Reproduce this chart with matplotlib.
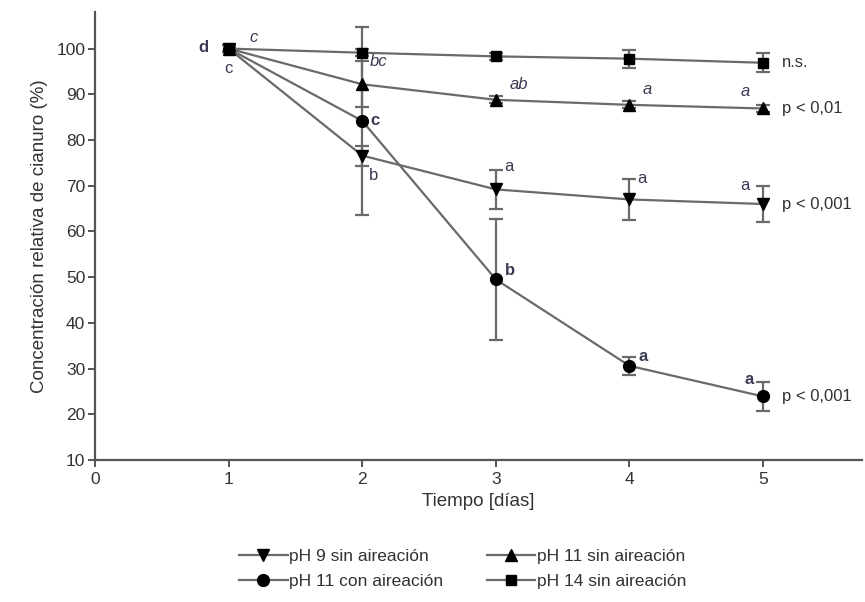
import matplotlib
matplotlib.use("Agg")
import matplotlib.pyplot as plt
from matplotlib import font_manager
from matplotlib.lines import Line2D

names = {f.name for f in font_manager.fontManager.ttflist}
fam = ['Liberation Sans Narrow'] if 'Liberation Sans Narrow' in names else ['Liberation Sans']
plt.rcParams['font.family'] = fam + ['DejaVu Sans']

dias = [1, 2, 3, 4, 5]
ph9_sin = [100, 76.6, 69.2, 67.0, 66.0]
ph9_sin_err = [0.8, 2.2, 4.3, 4.4, 4.0]
ph11_sin = [100, 92.2, 88.8, 87.7, 86.9]
ph11_sin_err = [0.8, 5.0, 0.8, 0.8, 0.8]
ph11_con = [100, 84.2, 49.5, 30.6, 23.9]
ph11_con_err = [0.8, 20.6, 13.2, 1.9, 3.2]
ph14_sin = [100, 99.1, 98.3, 97.8, 96.9]
ph14_sin_err = [0.8, 0.8, 0.8, 2.0, 2.1]

labels = ["pH 9 sin aireación", "pH 11 sin aireación", "pH 11 con aireación", "pH 14 sin aireación"]

letras_ph14 = ["c", "", "", "", ""]
letras_ph11s = ["", "bc", "ab", "a", "a"]
letras_ph9 = ["c", "b", "a", "a", "a"]
letras_ph11c = ["d", "c", "b", "a", "a"]
pvals = ["n.s.", "p < 0,01", "p < 0,001", "p < 0,001"]

fig = plt.figure(figsize=(8.65, 6.02), dpi=100)
ax = fig.add_axes([0.1098, 0.2359, 0.8867, 0.7441])

line_c = '#6a6a6a'
kw = dict(color=line_c, lw=1.6, ecolor=line_c, elinewidth=1.6, capsize=5, capthick=1.6,
          mfc='black', mec='black')
h1 = ax.errorbar(dias, ph9_sin, yerr=ph9_sin_err, marker='v', ms=9, **kw)
h2 = ax.errorbar(dias, ph11_sin, yerr=ph11_sin_err, marker='^', ms=9, **kw)
h3 = ax.errorbar(dias, ph11_con, yerr=ph11_con_err, marker='o', ms=8.5, **kw)
h4 = ax.errorbar(dias, ph14_sin, yerr=ph14_sin_err, marker='s', ms=7.5, **kw)

ax.set_xlim(0, 5.74)
ax.set_ylim(10, 108)
ax.set_xticks([0, 1, 2, 3, 4, 5])
ax.set_yticks(range(10, 101, 10))
for s in ['top', 'right']:
    ax.spines[s].set_visible(False)
for s in ['left', 'bottom']:
    ax.spines[s].set_color('#555555')
    ax.spines[s].set_linewidth(1.6)
ax.tick_params(axis='both', colors='#555555', width=1.4, length=5, labelsize=12.5,
               labelcolor='#333333')
ax.tick_params(axis='x', pad=4)
ax.tick_params(axis='y', pad=2)

ax.set_xlabel("Tiempo [días]", fontsize=13.5, color='#333333', labelpad=4)
ax.set_ylabel("Concentración relativa de cianuro (%)", fontsize=13.5, color='#333333', labelpad=6)

lc = '#3a3a55'
ax.text(1.19, 100.8, letras_ph14[0], fontsize=12, style='italic', color=lc, ha='center', va='bottom')
ax.text(0.85, 100.2, letras_ph11c[0], fontsize=12, weight='bold', color=lc, ha='right', va='center')
ax.text(1.0, 97.2, letras_ph9[0], fontsize=12, color=lc, ha='center', va='top')

offs_ph11s = [(0, 0), (0.06, 95.5), (0.1, 90.5), (0.1, 89.5), (-0.1, 89.0)]
for i in range(1, 5):
    dx, yy = offs_ph11s[i]
    ax.text(dias[i] + dx, yy, letras_ph11s[i], fontsize=12, style='italic', color=lc,
            ha='left' if dx > 0 else 'right', va='bottom')

pos_ph9 = [None, (2.05, 70.5, 'left'), (3.06, 72.5, 'left'), (4.06, 70.0, 'left'), (4.9, 68.5, 'right')]
for i in range(1, 5):
    x, y, ha = pos_ph9[i]
    ax.text(x, y, letras_ph9[i], fontsize=12, color=lc, ha=ha, va='bottom')

pos_ph11c = [None, (2.06, 84.2, 'left', 'center'), (3.07, 51.5, 'left', 'center'),
             (4.07, 32.7, 'left', 'center'), (4.93, 27.5, 'right', 'center')]
for i in range(1, 5):
    x, y, ha, va = pos_ph11c[i]
    ax.text(x, y, letras_ph11c[i], fontsize=12, weight='bold', color=lc, ha=ha, va=va)

py = [97.0, 86.8, 66.0, 23.9]
for t, y in zip(pvals, py):
    ax.text(5.14, y, t, fontsize=12, color='#333333', ha='left', va='center')

labs = [labels[0], labels[2], labels[1], labels[3]]
proxy = []
for m, ms in [('v', 9), ('o', 8.5), ('^', 9), ('s', 7.5)]:
    proxy.append(Line2D([], [], color=line_c, lw=1.6, marker=m, ms=ms, mfc='black', mec='black'))
fig.legend(proxy, labs, ncol=2, loc='center', bbox_to_anchor=(0.535, 0.055), frameon=False,
           fontsize=12.5, handlelength=2.8, handletextpad=0.1, columnspacing=2.5,
           labelspacing=0.6, labelcolor='#333333')

fig.savefig("out.png", dpi=100)
